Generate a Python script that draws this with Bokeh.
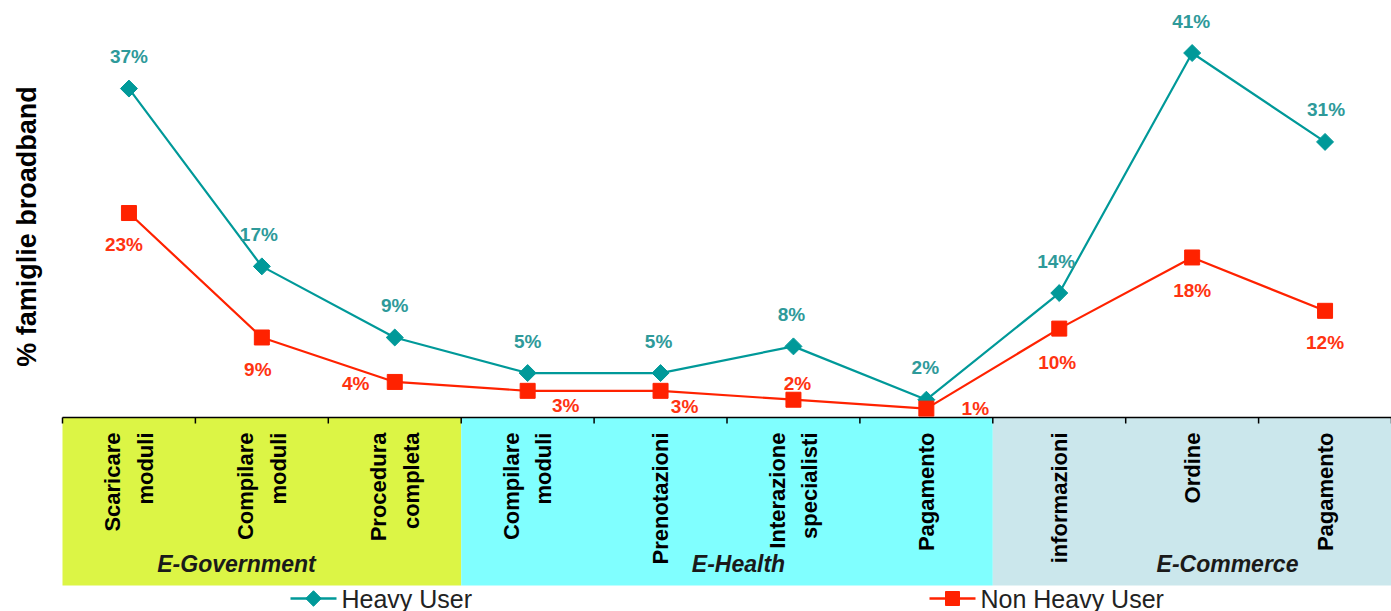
from bokeh.plotting import figure
from bokeh.core.properties import value
from bokeh.embed import file_html
from bokeh.resources import INLINE
import math

# ---------------- data ----------------
categories = ["Scaricare\nmoduli", "Compilare\nmoduli", "Procedura\ncompleta",
              "Compilare\nmoduli", "Prenotazioni", "Interazione\nspecialisti", "Pagamento",
              "informazioni", "Ordine", "Pagamento"]
heavy_user = [37, 17, 9, 5, 5, 8, 2, 14, 41, 31]
non_heavy_user = [23, 9, 4, 3, 3, 2, 1, 10, 18, 12]
groups = ["E-Government", "E-Health", "E-Commerce"]
group_sizes = [3, 4, 3]
y_label = "% famiglie broadband"
series_names = ["Heavy User", "Non Heavy User"]

# ---------------- layout helpers ----------------
W, H = 1391, 611
X_LEFT_PX = 62.0          # pixel where category area starts
CAT_W = (W - X_LEFT_PX) / len(categories)
Y0_PX = 417.0             # pixel of the 0% line
PX_PER_UNIT = 8.89

def xd(px):
    return 0.5 + (px - X_LEFT_PX) / CAT_W

def yd(py):
    return (Y0_PX - py) / PX_PER_UNIT

TEAL = "#009999"
TEAL_TXT = "#2E9A9A"
RED = "#FF2200"
RED_TXT = "#FF3311"
FONT = "Liberation Sans"
band_colors = ["#DCF545", "#80FFFF", "#CBE7EC"]

p = figure(width=W, height=H, x_range=(xd(0), xd(W)), y_range=(yd(H), yd(0)),
           min_border=0, toolbar_location=None, output_backend="svg")
p.axis.visible = False
p.grid.visible = False
p.outline_line_color = None
p.background_fill_color = "white"
p.border_fill_color = "white"

# ---------------- category bands ----------------
lefts, rights = [], []
start = 0.5
for n in group_sizes:
    lefts.append(start)
    rights.append(start + n)
    start += n
p.quad(left=lefts, right=rights, top=0, bottom=yd(585), fill_color=band_colors, line_color=None)

# axis line and ticks
p.segment(x0=[0.5], y0=[0], x1=[len(categories) + 0.5], y1=[0], line_color="black", line_width=1.5)
tick_x = [i + 0.5 for i in range(len(categories) + 1)]
p.segment(x0=tick_x, y0=[0] * len(tick_x), x1=tick_x, y1=[yd(Y0_PX + 6)] * len(tick_x),
          line_color="black", line_width=1.5)

# category labels (rotated)
xs = list(range(1, len(categories) + 1))
p.text(x=xs, y=[yd(432)] * len(xs), text=categories, angle=math.pi / 2,
       text_align="right", text_baseline="middle", text_font=value(FONT),
       text_font_style="bold", text_font_size="22px", text_color="black",
       text_line_height=1.3)

# group labels
group_px = [236, 738, 1227]
p.text(x=[xd(v) for v in group_px], y=[yd(563)] * 3, text=groups,
       text_align="center", text_baseline="middle", text_font=value(FONT),
       text_font_style="bold italic", text_font_size="23px", text_color="#1a1a1a")

# ---------------- series ----------------
p.line(xs, heavy_user, line_color=TEAL, line_width=2.2)
p.scatter(xs, heavy_user, marker="square", angle=math.pi / 4, size=12,
          fill_color=TEAL, line_color=TEAL)
p.line(xs, non_heavy_user, line_color=RED, line_width=2.2)
p.scatter(xs, non_heavy_user, marker="square", size=15, fill_color=RED, line_color=RED)

# value labels
heavy_dx = [0, -3, 0, 0, -2, -2, -1, -3, -1, 1]
heavy_dy = [-32] * 10
red_dx = [-5, -4, -39, 38, 24, 4, 49, -2, 0, 0]
red_dy = [31, 32, 2, 15, 16, -16, 0, 34, 33, 32]
p.text(x=xs, y=heavy_user, text=[f"{v}%" for v in heavy_user],
       x_offset=heavy_dx, y_offset=heavy_dy, text_align="center", text_baseline="middle",
       text_font=value(FONT), text_font_style="bold", text_font_size="19px", text_color=TEAL_TXT)
p.text(x=xs, y=non_heavy_user, text=[f"{v}%" for v in non_heavy_user],
       x_offset=red_dx, y_offset=red_dy, text_align="center", text_baseline="middle",
       text_font=value(FONT), text_font_style="bold", text_font_size="19px", text_color=RED_TXT)

# y axis title
p.text(x=[xd(26)], y=[yd(226)], text=[y_label], angle=math.pi / 2,
       text_align="center", text_baseline="middle", text_font=value(FONT),
       text_font_style="bold", text_font_size="27px", text_color="black")

# ---------------- legend ----------------
ly = yd(598)
p.segment(x0=[xd(290)], y0=[ly], x1=[xd(336)], y1=[ly], line_color=TEAL, line_width=2.5)
p.scatter([xd(313)], [ly], marker="square", angle=math.pi / 4, size=11,
          fill_color=TEAL, line_color=TEAL)
p.segment(x0=[xd(929)], y0=[ly], x1=[xd(975)], y1=[ly], line_color=RED, line_width=2.5)
p.scatter([xd(952)], [ly], marker="square", size=14, fill_color=RED, line_color=RED)
p.text(x=[xd(341), xd(980)], y=[ly, ly], text=series_names, text_align="left",
       text_baseline="middle", text_font=value(FONT), text_font_size="25px",
       text_color="#222222")

open("out.html", "w").write(file_html(p, INLINE))
